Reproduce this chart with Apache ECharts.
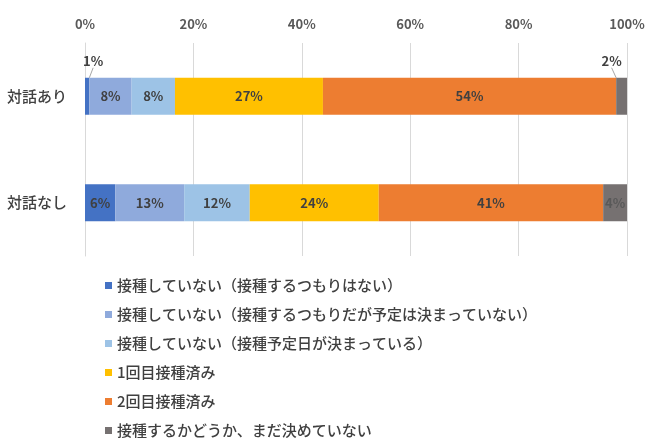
<!DOCTYPE html>
<html>
<head>
<meta charset="utf-8">
<script src="https://cdn.jsdelivr.net/npm/echarts@6/dist/echarts.min.js"></script>
<style>html,body{margin:0;padding:0;background:#fff;}#c{width:650px;height:446px;}</style>
</head>
<body>
<div id="c"></div>
<script>
const categories = ['対話あり', '対話なし'];
const seriesNames = [
  '接種していない（接種するつもりはない）',
  '接種していない（接種するつもりだが予定は決まっていない）',
  '接種していない（接種予定日が決まっている）',
  '1回目接種済み',
  '2回目接種済み',
  '接種するかどうか、まだ決めていない'
];
const notPlanned = [0.8, 5.6];
const plannedUnscheduled = [7.8, 12.7];
const scheduled = [8.0, 12.1];
const firstDose = [27.3, 23.8];
const secondDose = [54.1, 41.4];
const undecided = [2.0, 4.4];
const tickValues = [0, 20, 40, 60, 80, 100];

const colors = ['#4472C4', '#8FAADC', '#9DC3E6', '#FFC000', '#ED7D31', '#767171'];
const FONT = '"Noto Sans CJK JP", "Noto Sans", sans-serif';
const allData = [notPlanned, plannedUnscheduled, scheduled, firstDose, secondDose, undecided];

// outside labels for tiny segments (series index -> data index -> shift)
const outside = { '0-0': [6, -35], '5-0': [-10, -35] };

const series = allData.map((arr, si) => ({
  name: seriesNames[si],
  type: 'bar',
  stack: 'total',
  barWidth: 37,
  itemStyle: { color: colors[si] },
  label: {
    show: true,
    position: 'inside',
    color: si === 5 ? '#595959' : '#404040',
    fontFamily: FONT,
    fontWeight: 'bold',
    fontSize: 13,
    formatter: p => Math.round(p.value) + '%'
  },
  labelLine: { show: false },
  labelLayout: function (p) {
    const o = outside[si + '-' + p.dataIndex];
    return o ? { dx: o[0], dy: o[1] } : {};
  },
  data: arr.map((v, di) => {
    const key = si + '-' + di;
    if (outside[key]) {
      return {
        value: v,
        label: { color: '#404040' },
        labelLine: { show: true, minTurnAngle: 0, lineStyle: { color: '#a6a6a6', width: 1 } }
      };
    }
    return v;
  })
}));

const chart = echarts.init(document.getElementById('c'));
chart.setOption({
  animation: false,
  backgroundColor: '#fff',
  grid: { left: 85, right: 23, top: 43, bottom: 190, containLabel: false },
  xAxis: {
    type: 'value',
    position: 'top',
    min: tickValues[0],
    max: tickValues[tickValues.length - 1],
    interval: tickValues[1] - tickValues[0],
    axisLine: { show: false },
    axisTick: { show: false },
    splitLine: { show: true, lineStyle: { color: '#d9d9d9', width: 1 } },
    axisLabel: {
      margin: 12,
      color: '#595959',
      fontFamily: FONT,
      fontWeight: 'bold',
      fontSize: 13,
      formatter: '{value}%'
    }
  },
  yAxis: {
    type: 'category',
    inverse: true,
    data: categories,
    axisLine: { show: true, lineStyle: { color: '#d9d9d9' } },
    axisTick: { show: false },
    axisLabel: {
      margin: 18,
      color: '#404040',
      fontFamily: FONT,
      fontWeight: 500,
      fontSize: 15
    }
  },
  legend: {
    orient: 'vertical',
    left: 100,
    top: 273,
    itemWidth: 7,
    itemHeight: 7,
    itemGap: 14,
    icon: 'rect',
    data: seriesNames,
    textStyle: {
      color: '#404040',
      fontFamily: FONT,
      fontWeight: 500,
      fontSize: 15,
      lineHeight: 15
    }
  },
  series: series
});
</script>
</body>
</html>
